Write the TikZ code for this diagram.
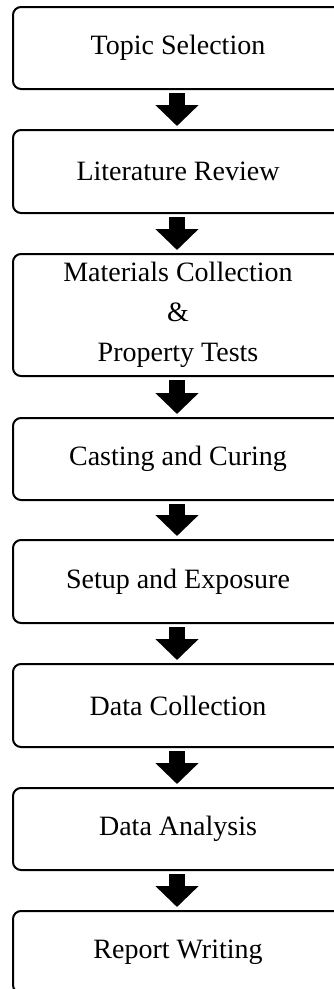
\documentclass[tikz,border=0pt]{standalone}
\usepackage{fontspec}
\setmainfont{Liberation Serif}
\usetikzlibrary{arrows.meta}
\begin{document}
\begin{tikzpicture}[x=1pt,y=1pt,
  stepbox/.style={draw=black, line width=2pt, rounded corners=8pt, fill=white,
    minimum width=330pt, inner sep=0pt, align=center,
    font=\fontsize{28}{40}\selectfont},
  blockarrow/.style={line width=16pt, black,
    -{Triangle[width=42pt,length=21pt]}}]
\useasboundingbox (0,0) rectangle (334,-989);
\clip (0,0) rectangle (334,-989);
\fill[white] (0,0) rectangle (334,-989);
\node[stepbox, minimum height=82pt]  (b1) at (178,-48)    {Topic Selection};
\node[stepbox, minimum height=83pt]  (b2) at (178,-171.5) {Literature Review};
\node[stepbox, minimum height=122pt] (b3) at (178,-315)   {Materials Collection\\\&\\Property Tests};
\node[stepbox, minimum height=82pt]  (b4) at (178,-459)   {Casting and Curing};
\node[stepbox, minimum height=83pt]  (b5) at (178,-581.5) {Setup and Exposure};
\node[stepbox, minimum height=83pt]  (b6) at (178,-705.5) {Data Collection};
\node[stepbox, minimum height=82pt]  (b7) at (178,-829)   {Data Analysis};
\node[stepbox, minimum height=82pt]  (b8) at (178,-952)   {Report Writing};
\foreach \a/\b in {b1/b2,b2/b3,b3/b4,b4/b5,b5/b6,b6/b7,b7/b8}{
  \draw[blockarrow] ([xshift=-1pt,yshift=-3pt]\a.south) -- ([xshift=-1pt,yshift=3pt]\b.north);
}
\end{tikzpicture}
\end{document}
